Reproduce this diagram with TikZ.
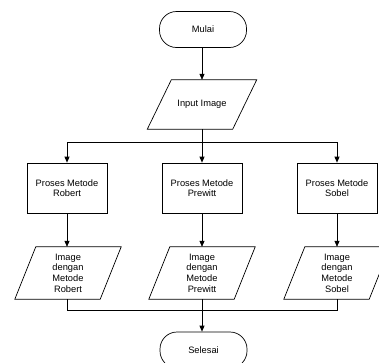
\documentclass[tikz,border=0pt]{standalone}
\usepackage{fontspec}
\setmainfont{Liberation Sans}
\usetikzlibrary{arrows.meta}
\begin{document}
\begin{tikzpicture}[x=1pt,y=-1pt,
  every node/.style={font=\fontsize{9.3}{10.6}\selectfont, align=center, inner sep=0pt},
  term/.style={draw, line width=0.7pt, rounded corners=17pt, minimum width=87pt, minimum height=36pt},
  procbox/.style={draw, line width=0.7pt, minimum width=80pt, minimum height=50pt},
  iobox/.style={minimum width=85pt},
  conn/.style={line width=0.7pt},
  arr/.style={conn, -{Triangle[width=5pt,length=6pt]}},
  para/.style={line width=0.7pt}
]
\useasboundingbox (0,0) rectangle (379,362);

% nodes
\node[term] (mulai) at (203,29.5) {Mulai};
\node[iobox, minimum height=49pt] (in) at (202,104.5) {Input Image};
\draw[para] ([xshift=12pt]in.north west) -- ([xshift=12pt]in.north east)
  -- ([xshift=-12pt]in.south east) -- ([xshift=-12pt]in.south west) -- cycle;

\node[procbox] (p1) at (67,188) {Proses Metode\\Robert};
\node[procbox] (p2) at (202,188) {Proses Metode\\Prewitt};
\node[procbox] (p3) at (337,188) {Proses Metode\\Sobel};

\node[iobox, minimum height=52pt] (o1) at (68,273) {Image\\dengan\\Metode\\Robert};
\node[iobox, minimum height=52pt] (o2) at (202,273) {Image\\dengan\\Metode\\Prewitt};
\node[iobox, minimum height=52pt] (o3) at (337,273) {Image\\dengan\\Metode\\Sobel};
\foreach \n in {o1,o2,o3}{
  \draw[para] ([xshift=10.5pt]\n.north west) -- ([xshift=10.5pt]\n.north east)
    -- ([xshift=-10.5pt]\n.south east) -- ([xshift=-10.5pt]\n.south west) -- cycle;
}

\node[term] (sel) at (203.5,350) {Selesai};

\coordinate (b) at (202,142);
\coordinate (m) at (202,310);

% connectors
\draw[arr] (mulai.south -| in.north) -- (in.north);
\draw[conn] (in.south) -- (b);
\draw[arr] (b) -| (p1.north);
\draw[arr] (b) -- (p2.north);
\draw[arr] (b) -| (p3.north);

\draw[arr] (p1.south) -- (p1.south |- o1.north);
\draw[arr] (p2.south) -- (o2.north);
\draw[arr] (p3.south) -- (o3.north);

\draw[conn] (o1.south -| p1.south) |- (m);
\draw[conn] (o3.south -| p3.south) |- (m);
\draw[arr] (o2.south) -- (sel.north -| o2.south);
\end{tikzpicture}
\end{document}
